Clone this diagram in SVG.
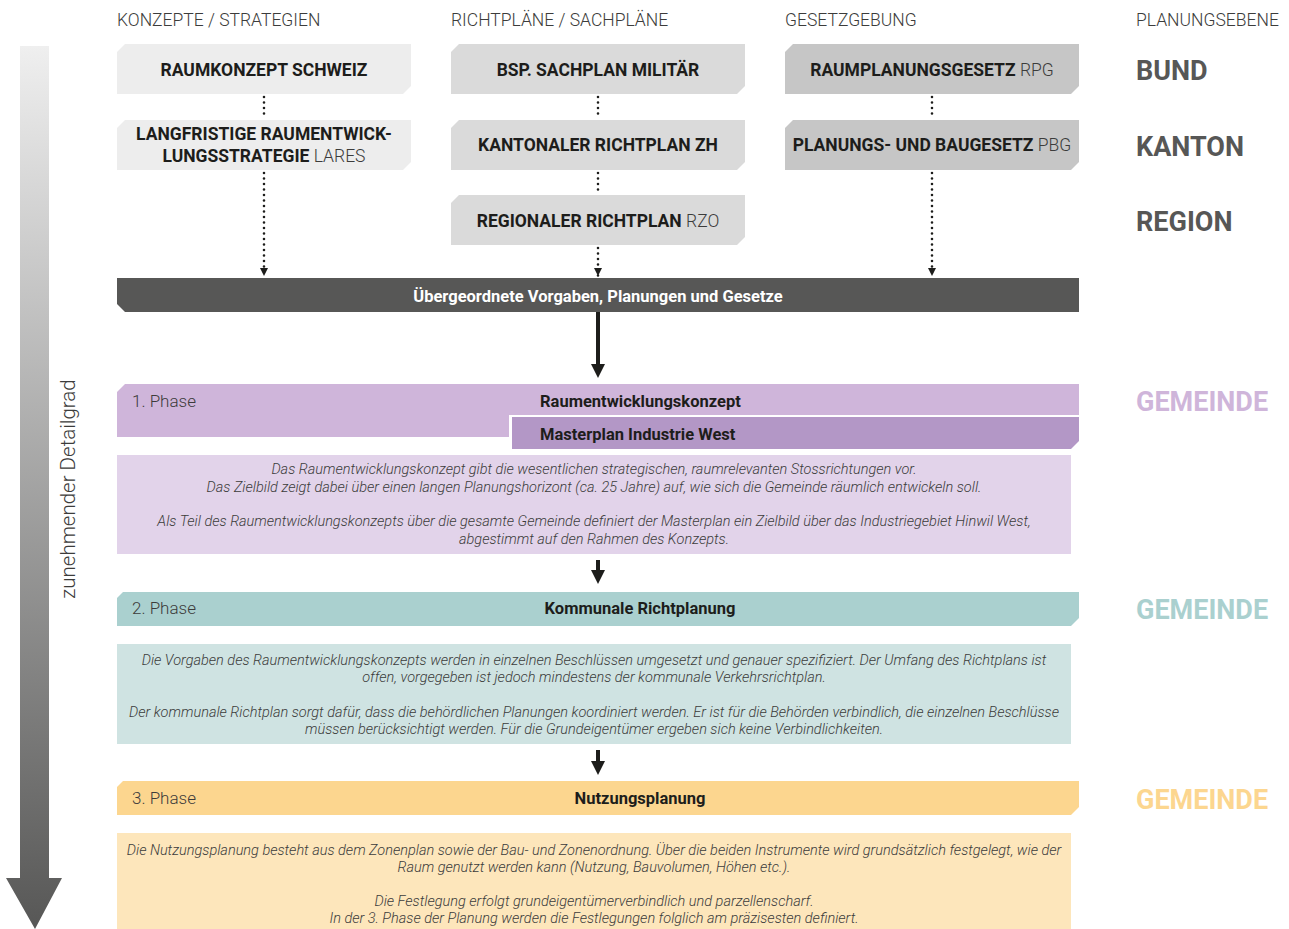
<svg xmlns="http://www.w3.org/2000/svg" width="1289" height="929" viewBox="0 0 1289 929">
<defs>
<linearGradient id="grad" x1="0" y1="0" x2="0" y2="1">
<stop offset="0" stop-color="#efefef"/>
<stop offset="1" stop-color="#575756"/>
</linearGradient>
<marker id="sm" viewBox="0 0 10 10" refX="5" refY="10" markerWidth="8" markerHeight="8" markerUnits="userSpaceOnUse">
<path d="M0,0 L10,0 L5,10 Z" fill="#1d1d1b"/>
</marker>
<marker id="big" viewBox="0 0 10 10" refX="5" refY="10" markerWidth="14" markerHeight="14" markerUnits="userSpaceOnUse">
<path d="M0,0 L10,0 L5,10 Z" fill="#1d1d1b"/>
</marker>
</defs>
<style>
text{font-family:Roboto,"Liberation Sans",sans-serif}
.hd{font-size:17.5px;font-weight:300;fill:#3c3c3b}
.bx{font-size:17.5px;font-weight:700;fill:#1d1d1b;text-anchor:middle}
.lt{font-weight:300;fill:#3c3c3b}
.lv{font-size:27px;font-weight:700;fill:#575756}
.ph{font-size:17px;font-weight:300;fill:#3c3c3b}
.pt{font-size:16.5px;font-weight:700;fill:#1d1d1b}
.ds{font-size:14.5px;font-weight:300;font-style:italic;fill:#3c3c3b;text-anchor:middle}
.dot{fill:none;stroke:#1d1d1b;stroke-width:2.6;stroke-dasharray:0 5.5;stroke-linecap:round}
.thick{fill:none;stroke:#1d1d1b;stroke-width:4}
</style>

<g id="arrow-left">
<path d="M20,46 H49 V878 H62 L35,929 L6,878 H20 Z" fill="url(#grad)"/>
<text x="75" y="489" transform="rotate(-90 75 489)" text-anchor="middle" style="font-size:20.5px;font-weight:300;fill:#3c3c3b">zunehmender Detailgrad</text>
</g>

<g id="headers">
<text class="hd" x="117" y="26">KONZEPTE / STRATEGIEN</text>
<text class="hd" x="451" y="26">RICHTPLÄNE / SACHPLÄNE</text>
<text class="hd" x="785" y="26">GESETZGEBUNG</text>
<text class="hd" x="1136" y="26">PLANUNGSEBENE</text>
</g>

<g id="levels">
<text class="lv" x="1136" y="80">BUND</text>
<text class="lv" x="1136" y="156">KANTON</text>
<text class="lv" x="1136" y="231">REGION</text>
<text class="lv" x="1136" y="411" style="fill:#cfb5da">GEMEINDE</text>
<text class="lv" x="1136" y="619" style="fill:#aad0cf">GEMEINDE</text>
<text class="lv" x="1136" y="809" style="fill:#fcd68f">GEMEINDE</text>
</g>

<g id="connectors">
<path class="dot" d="M264,97 V118"/>
<path class="dot" d="M264,173 V276" marker-end="url(#sm)"/>
<path class="dot" d="M598,97 V118"/>
<path class="dot" d="M598,173 V193"/>
<path class="dot" d="M598,248 V276" marker-end="url(#sm)"/>
<path class="dot" d="M932,97 V118"/>
<path class="dot" d="M932,173 V276" marker-end="url(#sm)"/>
<path class="thick" d="M598,312 V368"/>
<path d="M591,364 H605 L598,378 Z" fill="#1d1d1b"/>
<path class="thick" d="M598,560 V574"/>
<path d="M591,570 H605 L598,584 Z" fill="#1d1d1b"/>
<path class="thick" d="M598,750 V765"/>
<path d="M591,761 H605 L598,775 Z" fill="#1d1d1b"/>
</g>

<g id="raumkonzept">
<path d="M125,44 H411 V86 L403,94 H117 V52 Z" fill="#ededed"/>
<text class="bx" x="264" y="76">RAUMKONZEPT SCHWEIZ</text>
</g>
<g id="lares">
<path d="M125,120 H411 V162 L403,170 H117 V128 Z" fill="#ededed"/>
<text class="bx" x="264" y="140">LANGFRISTIGE RAUMENTWICK-</text>
<text class="bx" x="264" y="162">LUNGSSTRATEGIE <tspan class="lt">LARES</tspan></text>
</g>
<g id="sachplan">
<path d="M459,44 H745 V86 L737,94 H451 V52 Z" fill="#dadada"/>
<text class="bx" x="598" y="76">BSP. SACHPLAN MILITÄR</text>
</g>
<g id="kantonal">
<path d="M459,120 H745 V162 L737,170 H451 V128 Z" fill="#dadada"/>
<text class="bx" x="598" y="151">KANTONALER RICHTPLAN ZH</text>
</g>
<g id="regional">
<path d="M459,195 H745 V237 L737,245 H451 V203 Z" fill="#dadada"/>
<text class="bx" x="598" y="227">REGIONALER RICHTPLAN <tspan class="lt">RZO</tspan></text>
</g>
<g id="rpg">
<path d="M793,44 H1079 V86 L1071,94 H785 V52 Z" fill="#c6c6c6"/>
<text class="bx" x="932" y="76">RAUMPLANUNGSGESETZ <tspan class="lt">RPG</tspan></text>
</g>
<g id="pbg">
<path d="M793,120 H1079 V162 L1071,170 H785 V128 Z" fill="#c6c6c6"/>
<text class="bx" x="932" y="151">PLANUNGS- UND BAUGESETZ <tspan class="lt">PBG</tspan></text>
</g>

<g id="vorgaben">
<path d="M117,278 H1079 V312 H125 L117,304 Z" fill="#575756"/>
<text x="598" y="302" text-anchor="middle" style="font-size:16.5px;font-weight:700;fill:#ffffff">Übergeordnete Vorgaben, Planungen und Gesetze</text>
</g>

<g id="phase1">
<path d="M125,384 H1079 V437 H117 V392 Z" fill="#cfb5da"/>
<path d="M509,415 H1081 V441 L1073,451 H509 Z" fill="#ffffff"/>
<path d="M512,417 H1079 V441 L1071,449 H512 Z" fill="#b397c6"/>
<text class="ph" x="132" y="407">1. Phase</text>
<text class="pt" x="540" y="407">Raumentwicklungskonzept</text>
<text class="pt" x="540" y="440">Masterplan Industrie West</text>
</g>
<g id="desc1">
<rect x="117" y="455" width="954" height="99" fill="#e2d3ea"/>
<text class="ds" x="594" y="474">Das Raumentwicklungskonzept gibt die wesentlichen strategischen, raumrelevanten Stossrichtungen vor.</text>
<text class="ds" x="594" y="492">Das Zielbild zeigt dabei über einen langen Planungshorizont (ca. 25 Jahre) auf, wie sich die Gemeinde räumlich entwickeln soll.</text>
<text class="ds" x="594" y="526">Als Teil des Raumentwicklungskonzepts über die gesamte Gemeinde definiert der Masterplan ein Zielbild über das Industriegebiet Hinwil West,</text>
<text class="ds" x="594" y="544">abgestimmt auf den Rahmen des Konzepts.</text>
</g>

<g id="phase2">
<path d="M123,592 H1079 V618 L1071,626 H117 V598 Z" fill="#aad0cf"/>
<text class="ph" x="132" y="614">2. Phase</text>
<text class="pt" x="640" y="614" text-anchor="middle">Kommunale Richtplanung</text>
</g>
<g id="desc2">
<rect x="117" y="644" width="954" height="100" fill="#cfe3e2"/>
<text class="ds" x="594" y="665">Die Vorgaben des Raumentwicklungskonzepts werden in einzelnen Beschlüssen umgesetzt und genauer spezifiziert. Der Umfang des Richtplans ist</text>
<text class="ds" x="594" y="682">offen, vorgegeben ist jedoch mindestens der kommunale Verkehrsrichtplan.</text>
<text class="ds" x="594" y="717">Der kommunale Richtplan sorgt dafür, dass die behördlichen Planungen koordiniert werden. Er ist für die Behörden verbindlich, die einzelnen Beschlüsse</text>
<text class="ds" x="594" y="734">müssen berücksichtigt werden. Für die Grundeigentümer ergeben sich keine Verbindlichkeiten.</text>
</g>

<g id="phase3">
<path d="M123,781 H1079 V807 L1071,815 H117 V787 Z" fill="#fcd68f"/>
<text class="ph" x="132" y="804">3. Phase</text>
<text class="pt" x="640" y="804" text-anchor="middle">Nutzungsplanung</text>
</g>
<g id="desc3">
<rect x="117" y="833" width="954" height="96" fill="#fde6bb"/>
<text class="ds" x="594" y="855">Die Nutzungsplanung besteht aus dem Zonenplan sowie der Bau- und Zonenordnung. Über die beiden Instrumente wird grundsätzlich festgelegt, wie der</text>
<text class="ds" x="594" y="872">Raum genutzt werden kann (Nutzung, Bauvolumen, Höhen etc.).</text>
<text class="ds" x="594" y="906">Die Festlegung erfolgt grundeigentümerverbindlich und parzellenscharf.</text>
<text class="ds" x="594" y="923">In der 3. Phase der Planung werden die Festlegungen folglich am präzisesten definiert.</text>
</g>
</svg>
